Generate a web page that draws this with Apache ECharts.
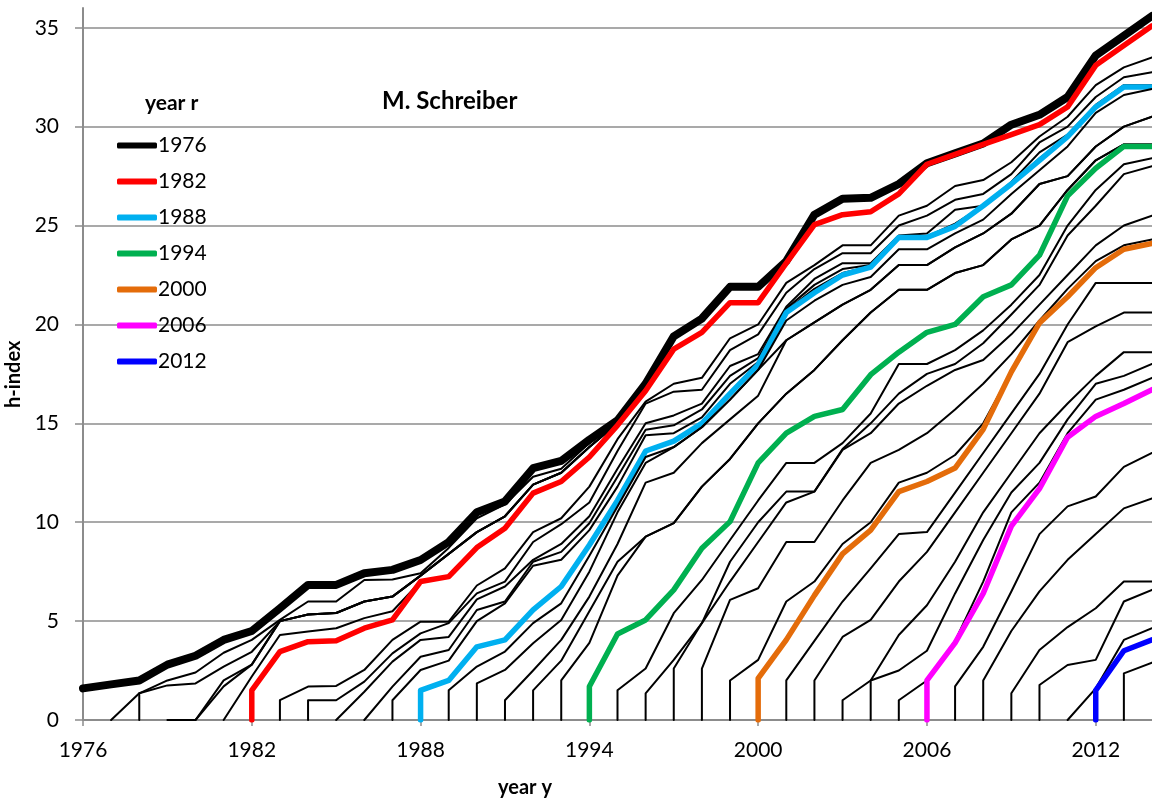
<!DOCTYPE html>
<html>
<head>
<meta charset="utf-8">
<script src="https://cdn.jsdelivr.net/npm/echarts@6/dist/echarts.min.js"></script>
<style>
  html, body { margin: 0; padding: 0; background: #fff; }
  #cc { width: 1152px; height: 802px; }
</style>
</head>
<body>
<div id="cc"></div>
<script>
// h-index h(r, y) of papers published from year r up to year y
// each array holds the values for y = r, r+1, ..., 2014
var h1976 = [1.6,1.8,2.0,2.8,3.25,4.05,4.5,5.65,6.83,6.83,7.42,7.59,8.09,9.0,10.5,11.05,12.73,13.1,14.17,15.15,17.0,19.4,20.3,21.9,21.9,23.2,25.55,26.35,26.4,27.1,28.15,28.65,29.15,30.1,30.6,31.5,33.6,34.6,35.6];
var h1977 = [0,1.35,2.0,2.4,3.4,4.05,5.06,5.99,5.99,7.08,7.1,7.42,8.7,10.2,10.9,12.3,12.7,14.0,15.1,17.0,19.4,20.3,21.9,21.9,23.2,25.55,26.35,26.4,27.1,28.15,28.65,29.15,30.1,30.6,31.5,33.6,34.6,35.6];
var h1978 = [1.35,1.75,1.85,2.7,3.45,5.0,5.33,5.41,5.99,6.24,7.3,8.4,9.5,10.3,11.9,12.5,13.8,15.0,16.65,18.75,19.6,21.1,21.1,23.1,25.05,25.55,25.7,26.6,28.1,28.6,29.1,29.6,30.1,31.0,33.1,34.1,35.1];
var h1979 = [0,0,2.0,2.8,5.0,5.33,5.41,5.99,6.24,7.3,8.4,9.5,10.3,11.9,12.5,13.8,15.0,16.65,18.75,19.6,21.1,21.1,23.1,25.05,25.55,25.7,26.6,28.1,28.6,29.1,29.6,30.1,31.0,33.1,34.1,35.1];
var h1980 = [0,1.7,2.8,5.0,5.33,5.41,5.99,6.24,7.3,8.4,9.5,10.3,11.9,12.5,13.8,15.0,16.65,18.75,19.6,21.1,21.1,23.1,25.05,25.55,25.7,26.6,28.1,28.6,29.1,29.6,30.1,31.0,33.1,34.1,35.1];
var h1981 = [0,2.2,4.3,4.47,4.64,5.15,5.5,7.0,7.25,8.72,9.7,11.47,12.06,13.3,14.9,16.65,18.75,19.6,21.1,21.1,23.1,25.05,25.55,25.7,26.6,28.1,28.6,29.1,29.6,30.1,31.0,33.1,34.1,35.1];
var h1982 = [1.5,3.46,3.96,4.01,4.64,5.06,7.0,7.25,8.72,9.7,11.47,12.06,13.3,14.9,16.65,18.75,19.6,21.1,21.1,23.1,25.05,25.55,25.7,26.6,28.1,28.6,29.1,29.6,30.1,31.0,33.1,34.1,35.1];
var h1983 = [1.0,1.69,1.72,2.53,4.05,4.97,4.97,6.8,7.67,9.5,10.2,11.8,14.2,16.1,17.0,17.3,19.3,20.0,22.1,23.0,24.0,24.0,25.5,26.0,27.0,27.3,28.2,29.5,30.5,32.1,33.0,33.5];
var h1984 = [1.0,1.0,1.94,3.37,4.38,4.9,6.4,7.0,9.0,9.9,11.0,13.6,16.0,16.6,16.7,18.7,19.5,21.6,22.8,23.6,23.6,25.0,25.5,26.3,26.6,27.6,29.2,30.0,31.5,32.5,32.75];
var h1985 = [0,1.43,2.95,4.05,4.2,6.1,6.75,8.1,8.9,10.3,12.7,15.0,15.4,16.0,17.9,18.5,20.9,22.3,23.1,23.1,24.5,24.6,25.8,26.0,27.2,28.7,29.6,31.1,32.1,32.1];
var h1986 = [0,1.69,3.2,3.54,5.56,5.99,8.0,8.5,9.95,12.3,14.67,14.9,15.7,17.4,18.3,20.8,22.0,22.8,23.0,24.45,24.45,25.1,26.0,27.1,28.4,29.5,31.0,32.0,32.05];
var h1987 = [1.0,2.53,3.0,5.0,5.9,7.8,8.1,9.6,11.8,14.4,14.5,15.3,17.0,18.1,20.7,21.8,22.6,22.95,24.4,24.4,25.0,26.0,27.1,28.3,29.5,31.0,32.0,32.0];
var h1988 = [1.5,2.0,3.7,4.05,5.57,6.75,8.85,11.1,13.6,14.1,15.0,16.5,17.97,20.6,21.6,22.5,22.9,24.4,24.4,24.96,26.0,27.1,28.3,29.5,31.0,32.0,32.0];
var h1989 = [1.5,2.7,3.46,4.9,5.9,8.3,10.8,13.3,13.8,14.8,16.2,17.7,20.2,21.2,22.0,22.4,23.8,23.8,24.6,25.3,26.6,27.8,29.0,30.7,31.6,31.9];
var h1990 = [1.85,2.53,3.88,5.06,7.5,10.5,13.0,13.8,14.8,16.2,17.7,19.2,20.1,21.0,21.75,23.0,23.0,23.9,24.6,25.6,27.1,27.5,29.0,30.0,30.5];
var h1991 = [1.0,2.5,4.05,6.24,8.9,12.0,12.5,14.0,15.2,16.4,19.2,20.1,21.0,21.75,23.0,23.0,23.9,24.6,25.6,27.1,27.5,29.0,30.0,30.5];
var h1992 = [1.5,3.0,5.5,8.0,9.27,9.95,11.8,13.2,15.0,16.5,17.7,19.2,20.6,21.75,21.75,22.6,23.0,24.3,25.0,26.8,28.3,29.1,29.1];
var h1993 = [2.0,3.9,7.3,9.27,9.95,11.8,13.2,15.0,16.5,17.7,19.2,20.6,21.75,21.75,22.6,23.0,24.3,25.0,26.8,28.3,29.1,29.1];
var h1994 = [1.69,4.35,5.06,6.58,8.68,10.03,13.0,14.5,15.35,15.7,17.46,18.6,19.6,20.0,21.4,22.0,23.5,26.5,27.9,29.0,29.0];
var h1995 = [1.5,2.6,5.4,7.08,9.1,11.1,13.0,13.0,14.0,15.5,18.0,18.0,18.7,19.7,21.0,22.5,25.0,26.8,28.1,28.4];
var h1996 = [1.35,3.04,4.9,8.0,10.0,11.55,11.55,13.7,15.0,16.5,17.5,18.0,19.05,20.5,22.0,24.5,26.0,27.6,28.0];
var h1997 = [2.6,4.9,7.0,9.0,11.0,11.55,13.66,14.5,16.0,16.9,17.7,18.2,19.5,21.0,22.5,24.0,25.0,25.5];
var h1998 = [2.6,6.07,6.66,9.0,9.0,11.1,13.0,13.66,14.5,15.7,17.0,18.5,20.2,21.8,23.2,24.0,24.3];
var h1999 = [2.0,3.04,5.99,7.0,8.9,10.0,12.0,12.5,13.4,15.0,17.6,20.1,21.4,22.8,23.8,24.1];
var h2000 = [2.1,4.05,6.3,8.4,9.6,11.55,12.06,12.74,14.7,17.6,20.08,21.4,22.87,23.8,24.1];
var h2001 = [2.0,4.0,5.99,7.67,9.4,9.5,11.5,13.5,15.5,17.5,20.0,22.1,22.1,22.1];
var h2002 = [2.0,4.2,5.06,7.0,8.5,10.5,12.5,14.5,16.5,19.1,19.9,20.6,20.6];
var h2003 = [1.0,2.0,4.3,5.8,8.0,10.5,12.5,14.5,16.0,17.4,18.6,18.6];
var h2004 = [2.0,2.5,3.5,6.4,9.1,11.5,13.0,15.2,17.0,17.4,18.0];
var h2005 = [1.0,2.0,4.0,7.0,10.5,12.0,14.5,16.2,16.7,17.3];
var h2006 = [2.0,3.9,6.4,9.8,11.7,14.3,15.35,16.0,16.7];
var h2007 = [1.7,3.7,6.5,9.4,10.8,11.3,12.8,13.5];
var h2008 = [2.0,4.5,6.5,8.1,9.4,10.7,11.2];
var h2009 = [1.35,3.54,4.7,5.65,7.0,7.0];
var h2010 = [1.77,2.78,3.04,5.99,6.58];
var h2011 = [0,1.6,4.05,4.64];
var h2012 = [1.5,3.5,4.05];
var h2013 = [2.36,2.9];

var curves = [h1976,h1977,h1978,h1979,h1980,h1981,h1982,h1983,h1984,h1985,h1986,h1987,h1988,h1989,h1990,
              h1991,h1992,h1993,h1994,h1995,h1996,h1997,h1998,h1999,h2000,h2001,h2002,h2003,h2004,h2005,
              h2006,h2007,h2008,h2009,h2010,h2011,h2012,h2013];
var firstYear = 1976;

var legendYears = [1976, 1982, 1988, 1994, 2000, 2006, 2012];
var legendColors = ['#000000', '#ff0000', '#00b0f0', '#00b050', '#e46c0a', '#ff00ff', '#0000ff'];

var xTicks = [1976, 1982, 1988, 1994, 2000, 2006, 2012];
var yTicks = [0, 5, 10, 15, 20, 25, 30, 35];

var font = 'Lato, "Open Sans", sans-serif';
var gridGray = '#8c8c8c';

var chart = echarts.init(document.getElementById('cc'));

var series = curves.map(function (vals, i) {
    var r = firstYear + i;
    var data = vals.map(function (v, k) { return [r + k, v]; });
    // later curves rise from h = 0 in their own year r
    if (r > firstYear) data.unshift([r, 0]);
    var hi = legendYears.indexOf(r);
    var color = hi >= 0 ? legendColors[hi] : '#000000';
    var width = r === firstYear ? 8 : (hi >= 0 ? 5.5 : 2);
    return {
        name: String(r),
        type: 'line',
        data: data,
        symbol: 'none',
        showSymbol: false,
        silent: true,
        animation: false,
        color: color,
        itemStyle: { color: color },
        lineStyle: { color: color, width: width, cap: 'round', join: 'round' },
        emphasis: { disabled: true }
    };
});

var option = {
    animation: false,
    title: [
        {
            text: 'M. Schreiber',
            left: 377, top: 84,
            textStyle: { fontFamily: font, fontSize: 24, fontWeight: 'bold', color: '#000' }
        },
        {
            text: 'year r',
            left: 140, top: 88,
            textStyle: { fontFamily: font, fontSize: 21, fontWeight: 'bold', color: '#000' }
        }
    ],
    legend: {
        data: legendYears.map(String),
        orient: 'vertical',
        left: 112, top: 130,
        icon: 'roundRect',
        itemWidth: 40, itemHeight: 6,
        itemGap: 15,
        selectedMode: false,
        textStyle: { fontFamily: font, fontSize: 21, color: '#000', lineHeight: 20, padding: [0, 0, 0, -4] }
    },
    grid: { left: 83, right: 0, top: 8, bottom: 82, containLabel: false },
    xAxis: {
        type: 'value',
        min: 1976, max: 2014,
        axisLine: { show: true, lineStyle: { color: gridGray, width: 2 } },
        axisTick: { show: true, customValues: xTicks, length: 6, lineStyle: { color: gridGray, width: 1.5 } },
        axisLabel: {
            customValues: xTicks,
            formatter: function (v) { return String(v); },
            fontFamily: font, fontSize: 21, color: '#000', margin: 20
        },
        splitLine: { show: false }
    },
    yAxis: {
        type: 'value',
        min: 0, max: 36,
        axisLine: { show: true, lineStyle: { color: gridGray, width: 2 } },
        axisTick: { show: true, customValues: yTicks, length: 8, lineStyle: { color: gridGray, width: 1.5 } },
        axisLabel: { customValues: yTicks, fontFamily: font, fontSize: 21, color: '#000', margin: 24 },
        splitLine: { show: true, lineStyle: { color: gridGray, width: 1.5 } }
    },
    graphic: [
        {
            type: 'text', left: 498, top: 778,
            style: { text: 'year y', font: 'bold 20px ' + font, fill: '#000' }
        },
        {
            type: 'text', rotation: Math.PI / 2, x: 4, y: 408,
            style: { text: 'h-index', font: 'bold 20px ' + font, fill: '#000' }
        }
    ],
    series: series
};

chart.setOption(option);
</script>
</body>
</html>
